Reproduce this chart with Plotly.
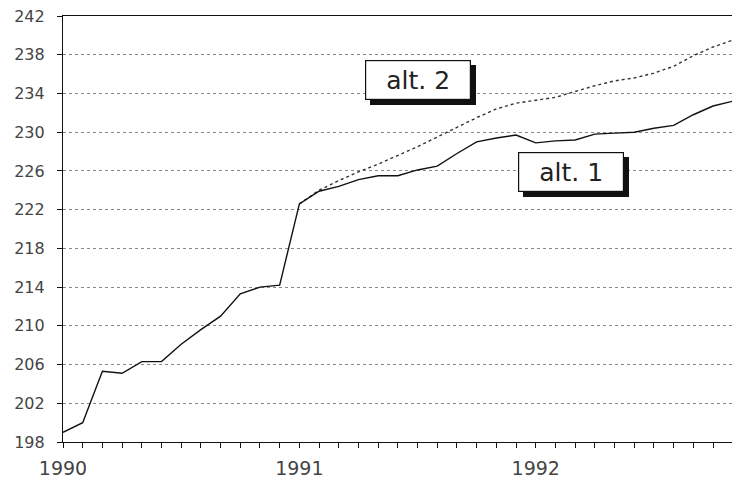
import plotly.graph_objects as go

# month index 0 = Jan 1990
months = list(range(36))
alt1 = [199.0, 200.0, 205.3, 205.1, 206.3, 206.3, 208.1, 209.6, 211.0, 213.3,
        214.0, 214.2, 222.6, 223.9, 224.4, 225.1, 225.5, 225.5, 226.1, 226.5,
        227.8, 229.0, 229.4, 229.7, 228.9, 229.1, 229.2, 229.8, 229.9, 230.0,
        230.4, 230.7, 231.8, 232.7, 233.2, 233.4]
alt2_months = list(range(12, 36))
alt2 = [222.6, 224.0, 225.0, 225.9, 226.7, 227.6, 228.5, 229.5, 230.5, 231.5,
        232.4, 233.0, 233.3, 233.6, 234.2, 234.8, 235.3, 235.6, 236.1, 236.8,
        237.9, 238.8, 239.5, 240.0]
year_ticks = [0, 12, 24]
year_labels = ["1990", "1991", "1992"]
y_ticks = list(range(198, 243, 4))

fig = go.Figure()
fig.add_trace(go.Scatter(x=alt2_months, y=alt2, mode="lines",
                         line=dict(color="#333", width=1.4, dash="dot"),
                         name="alt. 2", showlegend=False))
fig.add_trace(go.Scatter(x=months, y=alt1, mode="lines",
                         line=dict(color="#111", width=1.4),
                         name="alt. 1", showlegend=False))

labels = [("alt. 2", 18.0, 235.4), ("alt. 1", 25.8, 225.9)]
for txt, lx, ly in labels:
    fig.add_annotation(x=lx, y=ly, text="&nbsp;", showarrow=False, xshift=5, yshift=-5,
                       font=dict(family="DejaVu Sans", size=25, color="#111"),
                       bgcolor="#111", bordercolor="#111", borderwidth=1,
                       width=100, height=34, borderpad=2)
    fig.add_annotation(x=lx, y=ly, text=txt, showarrow=False,
                       font=dict(family="DejaVu Sans", size=25, color="#222"),
                       bgcolor="white", bordercolor="#111", borderwidth=1.2,
                       width=100, height=34, borderpad=2)

fig.update_layout(
    width=732, height=474,
    margin=dict(l=55, r=0, t=8, b=40),
    plot_bgcolor="white", paper_bgcolor="white",
    font=dict(family="DejaVu Sans", size=16, color="#444"),
)
fig.update_xaxes(
    range=[0, 34.37], tickvals=year_ticks, ticktext=year_labels,
    tickfont=dict(size=19), automargin=False,
    showline=True, linecolor="#111", linewidth=1.2, mirror=True,
    ticks="outside", ticklen=5, tickcolor="#111",
    minor=dict(dtick=1, tick0=0, ticks="outside", ticklen=5, tickcolor="#111", showgrid=False),
    showgrid=False, zeroline=False, ticklabelstandoff=4,
)
fig.update_yaxes(
    range=[198, 242], tickvals=y_ticks,
    tickfont=dict(size=16), automargin=False,
    showline=True, linecolor="#111", linewidth=1.2,
    ticks="outside", ticklen=5, tickcolor="#111",
    showgrid=True, gridcolor="#888", gridwidth=1, griddash="dot",
    zeroline=False, ticklabelstandoff=9, ticklabeloverflow="allow",
)
fig.write_html("out.html")
